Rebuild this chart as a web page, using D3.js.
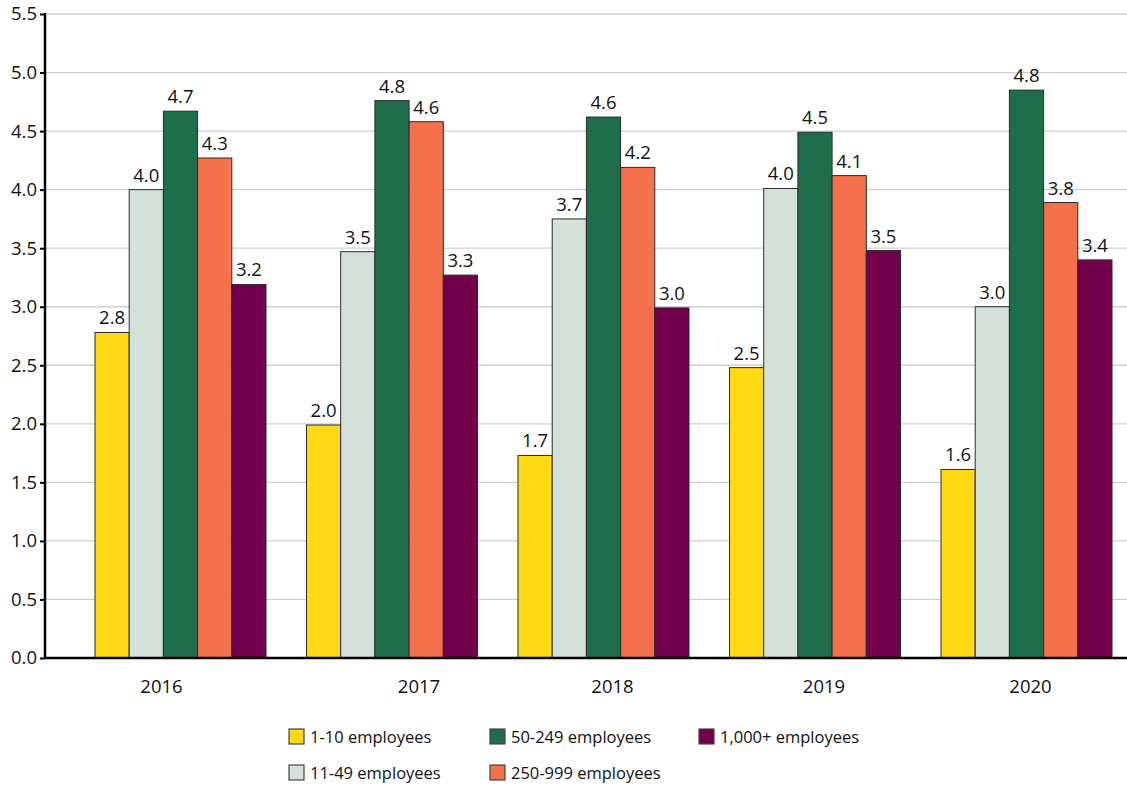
<!DOCTYPE html>
<html>
<head>
<meta charset="utf-8">
<script src="https://cdn.jsdelivr.net/npm/d3@7"></script>
<style>
  html, body { margin: 0; padding: 0; background: #fff; }
  svg { display: block; font-family: "Open Sans", "Noto Sans", sans-serif; }
</style>
</head>
<body>
<svg id="chart" width="1127" height="785"></svg>
<script>
// ---- data ----
const years = ["2016", "2017", "2018", "2019", "2020"];
const seriesNames = ["1-10 employees", "11-49 employees", "50-249 employees", "250-999 employees", "1,000+ employees"];
const s1to10 = [2.78, 1.99, 1.73, 2.48, 1.61];
const s11to49 = [4.00, 3.47, 3.75, 4.01, 3.00];
const s50to249 = [4.67, 4.76, 4.62, 4.49, 4.85];
const s250to999 = [4.27, 4.58, 4.19, 4.12, 3.89];
const s1000plus = [3.19, 3.27, 2.99, 3.48, 3.40];
const lbl1to10 = ["2.8", "2.0", "1.7", "2.5", "1.6"];
const lbl11to49 = ["4.0", "3.5", "3.7", "4.0", "3.0"];
const lbl50to249 = ["4.7", "4.8", "4.6", "4.5", "4.8"];
const lbl250to999 = ["4.3", "4.6", "4.2", "4.1", "3.8"];
const lbl1000plus = ["3.2", "3.3", "3.0", "3.5", "3.4"];
const yTicks = [0, 0.5, 1, 1.5, 2, 2.5, 3, 3.5, 4, 4.5, 5, 5.5];

// ---- styles / layout ----
const colors = ["#FFD914", "#D3E1DA", "#1E6E4C", "#F4714C", "#73004A"];
const yearLabelNudge = [-19, 27, 9, 9, 4];

const seriesValues = [s1to10, s11to49, s50to249, s250to999, s1000plus];
const seriesLabels = [lbl1to10, lbl11to49, lbl50to249, lbl250to999, lbl1000plus];

const svg = d3.select("#chart");
const axisX = 45, rightX = 1127, topY = 14, baseY = 658;

const y = d3.scaleLinear().domain([0, 5.5]).range([baseY, topY]);
const x0 = d3.scaleBand().domain(years).range([95, 1112]).paddingInner(0.1915).paddingOuter(0);
const x1 = d3.scaleBand().domain(d3.range(seriesNames.length)).range([0, x0.bandwidth()]).padding(0);

// gridlines
svg.append("g").selectAll("line").data(yTicks.filter(t => t > 0)).join("line")
  .attr("x1", axisX).attr("x2", rightX)
  .attr("y1", d => y(d)).attr("y2", d => y(d))
  .attr("stroke", "#cfcfcf").attr("stroke-width", 1.3);

// bars
const groups = svg.append("g").selectAll("g").data(years).join("g")
  .attr("transform", d => `translate(${x0(d)},0)`);
groups.each(function(yr, yi) {
  const g = d3.select(this);
  seriesValues.forEach((vals, si) => {
    g.append("rect")
      .attr("x", x1(si)).attr("width", x1.bandwidth())
      .attr("y", y(vals[yi])).attr("height", baseY - y(vals[yi]))
      .attr("fill", colors[si]).attr("stroke", "#2b2b2b").attr("stroke-width", 1);
    g.append("text")
      .attr("x", x1(si) + x1.bandwidth() / 2)
      .attr("y", y(vals[yi]) - 8)
      .attr("text-anchor", "middle")
      .attr("font-size", 18.5).attr("fill", "#111")
      .text(seriesLabels[si][yi]);
  });
});

// y axis
const yAxis = d3.axisLeft(y).tickValues(yTicks).tickFormat(d3.format(".1f")).tickSize(5).tickPadding(3);
const ya = svg.append("g").attr("transform", `translate(${axisX},0)`).call(yAxis);
ya.select(".domain").attr("stroke", "#000").attr("stroke-width", 2.5).attr("d", `M0,${topY - 1}V${baseY}`);
ya.selectAll(".tick line").attr("stroke", "#000").attr("stroke-width", 2);
ya.selectAll(".tick text").attr("font-size", 18.5).attr("fill", "#111").attr("font-family", "Open Sans, sans-serif");

// x axis baseline
svg.append("line").attr("x1", axisX).attr("x2", rightX).attr("y1", baseY).attr("y2", baseY)
  .attr("stroke", "#000").attr("stroke-width", 2.5);

// year labels
svg.append("g").selectAll("text").data(years).join("text")
  .attr("x", (d, i) => x0(d) + x0.bandwidth() / 2 + yearLabelNudge[i])
  .attr("y", 693)
  .attr("text-anchor", "middle").attr("font-size", 18.5).attr("fill", "#111")
  .text(d => d);

// legend
const legendPos = [[289, 729], [289, 765], [490, 729], [490, 765], [699, 729]];
const lg = svg.append("g").selectAll("g").data(seriesNames).join("g")
  .attr("transform", (d, i) => `translate(${legendPos[i][0]},${legendPos[i][1]})`);
lg.append("rect").attr("width", 15).attr("height", 15)
  .attr("fill", (d, i) => colors[i]).attr("stroke", "#444").attr("stroke-width", 1.2);
lg.append("text").attr("x", 21).attr("y", 14).attr("font-size", 16.5).attr("fill", "#111")
  .text(d => d);
</script>
</body>
</html>
